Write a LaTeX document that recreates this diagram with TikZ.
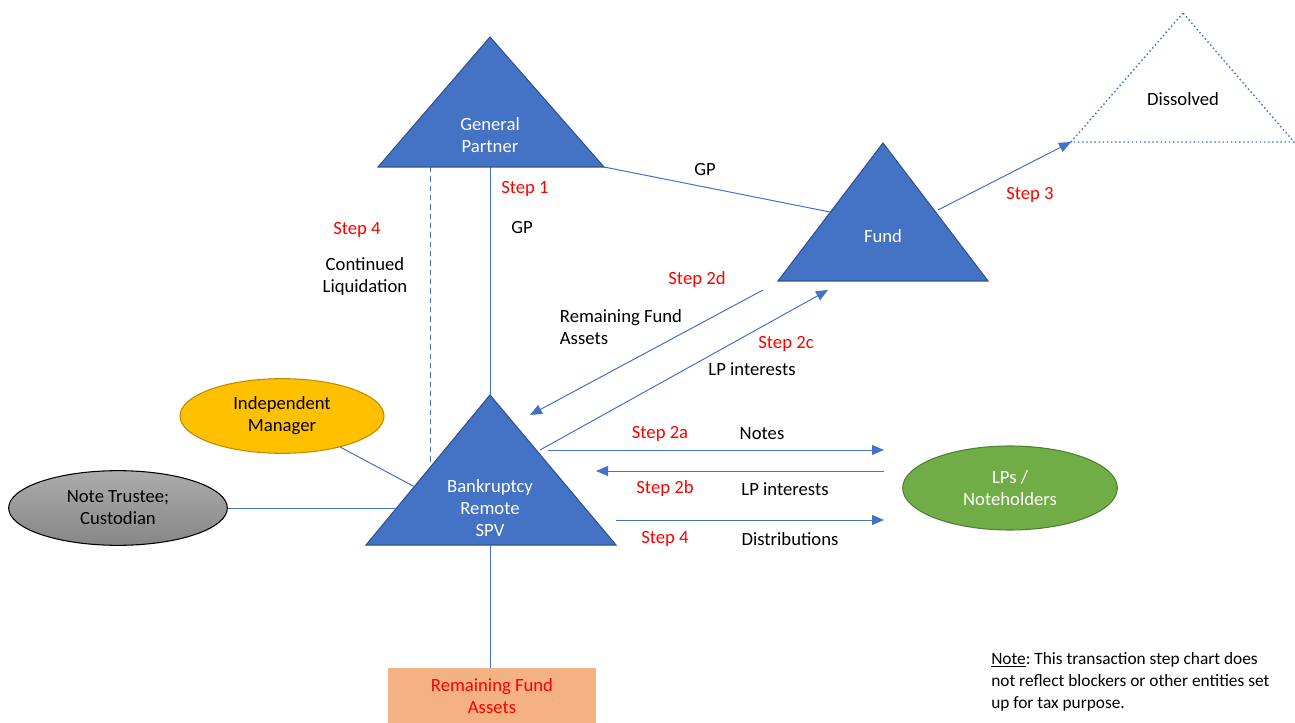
\documentclass[tikz,border=0pt]{standalone}
\usepackage{fontspec}
\setmainfont{Carlito}
\frenchspacing
\usetikzlibrary{arrows.meta,shapes.geometric}
\definecolor{tri}{HTML}{4472C4}
\definecolor{triedge}{HTML}{2F528F}
\definecolor{ln}{HTML}{4472C4}
\definecolor{stepred}{HTML}{FF0000}
\definecolor{gold}{HTML}{FFC000}
\definecolor{goldedge}{HTML}{BC8C00}
\definecolor{grn}{HTML}{70AD47}
\definecolor{grnedge}{HTML}{507E32}
\definecolor{peach}{HTML}{F4B183}
\tikzset{
  x=0.75pt, y=-0.75pt,
  trishape/.style={fill=tri, draw=triedge, line width=0.8pt, line join=miter},
  conn/.style={draw=ln, line width=0.75pt},
  arr/.style={conn, -{Triangle[length=9pt,width=7.5pt]}},
  lbl/.style={font=\fontsize{14}{16.5}\selectfont, align=center, inner sep=0pt},
  steplbl/.style={lbl, text=stepred},
  whitelbl/.style={lbl, text=white},
}
\begin{document}
\begin{tikzpicture}
\useasboundingbox (0,0) rectangle (1295,723);
% triangle vertices
\coordinate (gpA) at (490,37); \coordinate (gpL) at (378,167); \coordinate (gpR) at (604,167);
\coordinate (fA) at (883,143); \coordinate (fL) at (778,281); \coordinate (fR) at (988,281);
\coordinate (dA) at (1183,13); \coordinate (dL) at (1071,142); \coordinate (dR) at (1294,142);
\coordinate (bA) at (490,395); \coordinate (bL) at (366,545); \coordinate (bR) at (616,545);
% connectors first (under shapes)
\coordinate (gpB) at (490,167);
\coordinate (dashTop) at (430,167); \coordinate (dashBot) at (430,472);
\draw[conn] (gpB) -- (bA);
\draw[conn, dashed, dash pattern=on 4pt off 3pt] (dashTop) -- (dashBot);
\coordinate (fEdge) at (830,212);
\draw[conn] (gpR) -- (fEdge);
\coordinate (fOut) at (938,210);
\draw[arr] (fOut) -- (dL);
\coordinate (d2s) at (763,290); \coordinate (d2e) at (530,415);
\draw[arr] (d2s) -- (d2e);
\coordinate (c2s) at (540,450); \coordinate (c2e) at (828,290);
\draw[arr] (c2s) -- (c2e);
\coordinate (a2s) at (548,450); \coordinate (a2e) at (884,450);
\draw[arr] (a2s) -- (a2e);
\coordinate (b2s) at (884,471); \coordinate (b2e) at (596,471);
\draw[arr] (b2s) -- (b2e);
\coordinate (s4s) at (616,520); \coordinate (s4e) at (884,520);
\draw[arr] (s4s) -- (s4e);
% shapes
\draw[trishape] (gpA) -- (gpL) -- (gpR) -- cycle;
\draw[trishape] (fA) -- (fL) -- (fR) -- cycle;
\draw[trishape] (bA) -- (bL) -- (bR) -- cycle;
\draw[draw=ln, line width=1.1pt, dotted] (dA) -- (dL) -- (dR) -- cycle;
\node[whitelbl] (gptext) at (490,135) {General\\Partner};
\node[whitelbl] (ftext) at (883,236) {Fund};
\node[whitelbl] (btext) at (490,508) {Bankruptcy\\Remote\\SPV};
\node[lbl] (dtext) at (1183,99) {Dissolved};
% ellipses
\node[ellipse, fill=gold, draw=goldedge, line width=0.8pt, minimum width=153pt, minimum height=56pt, lbl] (im) at (282,416) {Independent\\Manager};
\node[ellipse, top color=gray!65, bottom color=gray!105!black, draw=black, line width=0.8pt, minimum width=164pt, minimum height=56pt, lbl] (nt) at (118,508) {Note Trustee;\\Custodian};
\node[ellipse, fill=grn, draw=grnedge, line width=0.8pt, minimum width=161pt, minimum height=63pt, lbl, text=white] (lp) at (1010,488) {LPs /\\Noteholders};
\node[rectangle, fill=peach, minimum width=156pt, minimum height=41.5pt, lbl, text=stepred, anchor=north] (rfa) at (492,668) {Remaining Fund\\Assets};
% connectors to ellipses / box
\coordinate (imStart) at (340,447);
\coordinate (imEnd) at (415,487);
\draw[conn] (imStart) -- (imEnd);
\coordinate (ntEnd) at (395,508);
\draw[conn] (nt.east) -- (ntEnd);
\coordinate (bB) at (490,545);
\draw[conn] (bB) -- (rfa.north -| bB);
% labels
\node[steplbl] (s1) at (525,189) {Step 1};
\node[lbl] (gp1) at (522,228) {GP};
\node[steplbl] (s4a) at (357,230) {Step 4};
\node[lbl] (cl) at (365,277) {Continued\\Liquidation};
\node[lbl] (gp2) at (705,170) {GP};
\node[steplbl] (s3) at (1030,195) {Step 3};
\node[steplbl] (s2d) at (697,280) {Step 2d};
\node[lbl, align=left] (rfa2) at (621,327) {Remaining Fund\\Assets};
\node[steplbl] (s2c) at (786,344) {Step 2c};
\node[lbl] (lpi1) at (752,369) {LP interests};
\node[steplbl] (s2a) at (660,434) {Step 2a};
\node[lbl] (notes) at (762,434) {Notes};
\node[steplbl] (s2b) at (665,489) {Step 2b};
\node[lbl] (lpi2) at (785,489) {LP interests};
\node[steplbl] (s4b) at (665,539) {Step 4};
\node[lbl] (dist) at (790,539) {Distributions};
\node[lbl, align=left, anchor=north west, font=\fontsize{13}{16.5}\selectfont] (note) at (991,652) {\underline{Note}: This transaction step chart does\\not reflect blockers or other entities set\\up for tax purpose.};
\end{tikzpicture}
\end{document}
